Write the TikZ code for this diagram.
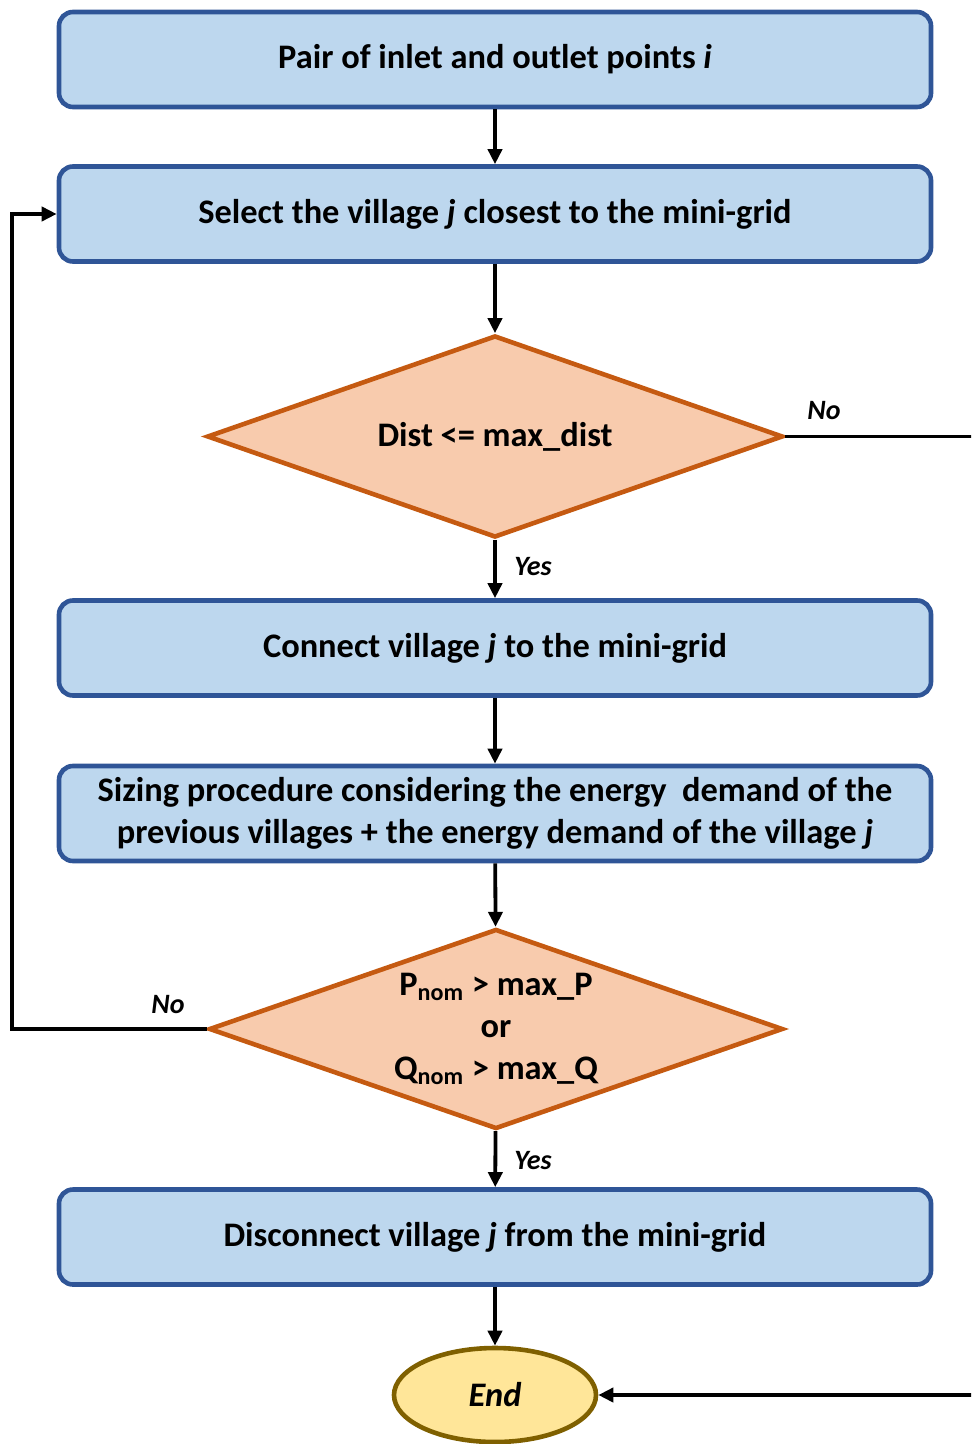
\documentclass[tikz,border=0pt]{standalone}
\usepackage{fontspec}
\setmainfont{Carlito}
\usetikzlibrary{shapes.geometric,arrows.meta}
\definecolor{boxblue}{RGB}{189,215,238}
\definecolor{boxedge}{RGB}{47,85,151}
\definecolor{decfill}{RGB}{248,203,173}
\definecolor{decedge}{RGB}{197,90,17}
\definecolor{endfill}{RGB}{255,230,153}
\definecolor{endedge}{RGB}{127,96,0}

\begin{document}
\begin{tikzpicture}[x=0.5pt, y=-0.5pt, >={Triangle[length=7.5pt,width=7pt]},
    procbox/.style={draw=boxedge, fill=boxblue, line width=2.3pt, rounded corners=7pt,
        minimum width=436pt, minimum height=47.5pt, align=center,
        font=\fontsize{17.2}{21}\selectfont\bfseries},
    decbox/.style={diamond, draw=decedge, fill=decfill, line width=2.3pt, shape aspect=2.9,
        inner sep=0pt, align=center, font=\fontsize{17.2}{21}\selectfont\bfseries},
    endbox/.style={ellipse, draw=endedge, fill=endfill, line width=2.3pt,
        minimum width=101pt, minimum height=47pt, font=\fontsize{17.2}{21}\selectfont\bfseries\itshape},
    flow/.style={->, line width=1.9pt},
    lbl/.style={font=\fontsize{14}{16}\selectfont\bfseries\itshape}]

    % Marco
    \useasboundingbox (0,0) rectangle (971,1444);
    \clip (0,0) rectangle (971,1444);

    % Bloques
    \node[procbox] (pair) at (495,59.5) {Pair of inlet and outlet points {\itshape i}};
    \node[procbox] (sel) at (495,214) {Select the village {\itshape j} closest to the mini-grid};
    \node[decbox, minimum width=288pt, minimum height=101pt] (dec1) at (495,436.5) {Dist <= max\_dist};
    \node[procbox] (conn) at (495,648) {Connect village {\itshape j} to the mini-grid};
    \node[procbox] (size) at (495,813.5) {Sizing procedure considering the energy~ demand of the\\
        previous villages + the energy demand of the village {\itshape j}};
    \node[decbox, minimum width=287pt, minimum height=100pt] (dec2) at (496,1029)
        {P\textsubscript{nom} > max\_P\\or\\Q\textsubscript{nom} > max\_Q};
    \node[procbox] (disc) at (495,1237) {Disconnect village {\itshape j} from the mini-grid};
    \node[endbox] (end) at (495,1395) {End};

    % Flechas
    \draw[flow] (pair) -- (sel);
    \draw[flow] (sel) -- (dec1);
    \draw[flow] (dec1) -- (conn);
    \draw[flow] (conn) -- (size);
    \draw[flow] (size) -- (dec2);
    \draw[flow] (dec2) -- (disc);
    \draw[flow] (disc) -- (end);

    % Retornos
    \coordinate (loopL) at (12,0);
    \coordinate (loopR) at (1000,0);
    \draw[flow] (dec2.west) -- (dec2.west -| loopL) |- (sel.west);
    \draw[flow] (dec1.east) -- (dec1.east -| loopR) |- (end.east);

    % Etiquetas
    \node[lbl] (no1) at (824,411) {No};
    \node[lbl] (yes1) at (533,567) {Yes};
    \node[lbl] (no2) at (168,1005) {No};
    \node[lbl] (yes2) at (533,1161) {Yes};
\end{tikzpicture}
\end{document}
